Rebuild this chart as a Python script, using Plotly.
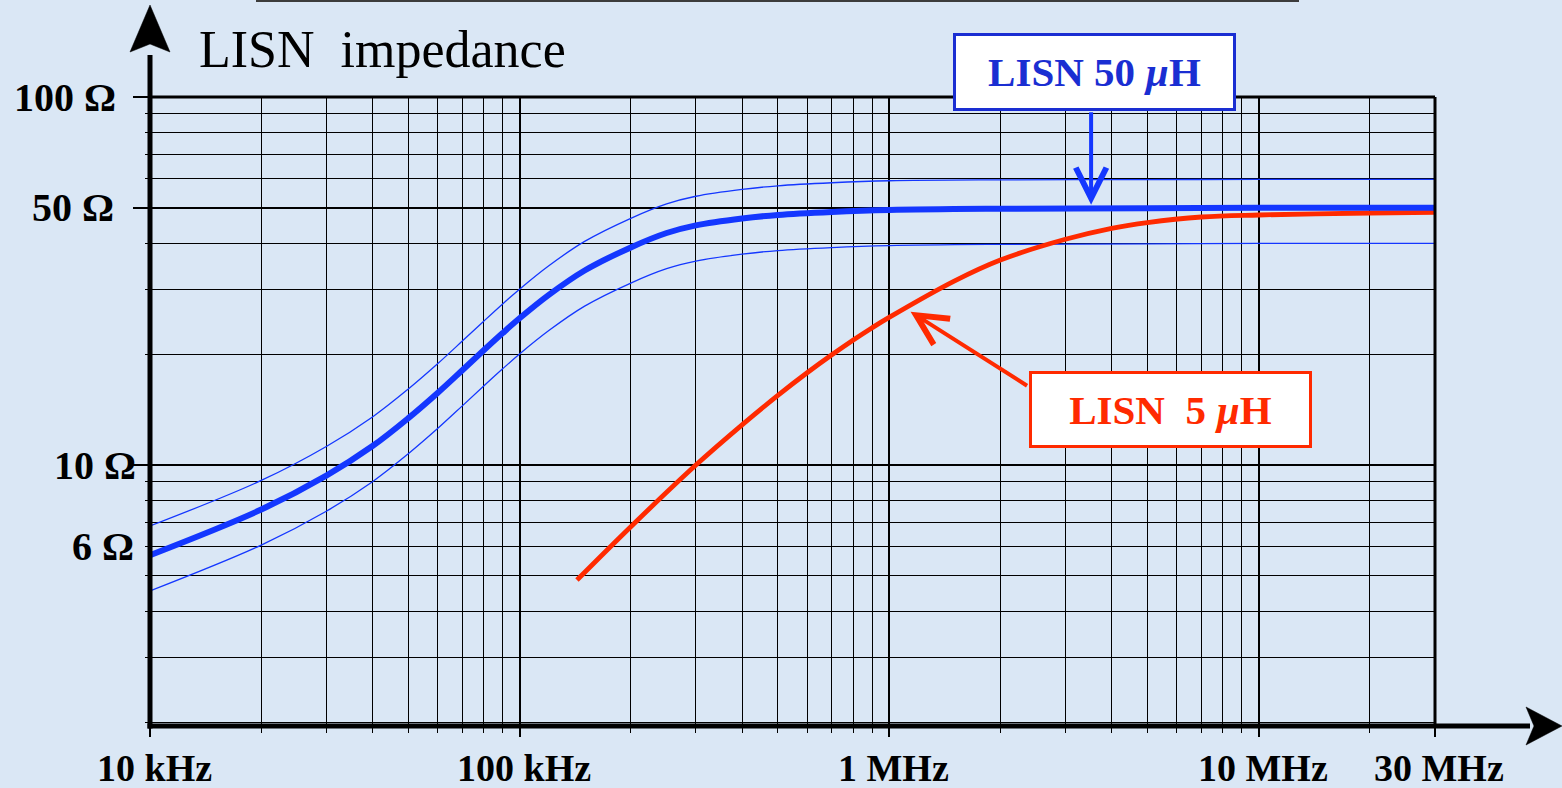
import math
import plotly.graph_objects as go

# ---------------- data ----------------
freq_main = [1e4, 2e4, 3e4, 4e4, 5e4, 6e4, 7e4, 8e4, 9e4, 1e5, 1.2e5, 1.5e5, 2e5,
             2.5e5, 3e5, 4e5, 5e5, 7e5, 1e6, 2e6, 5e6, 1e7, 3e7]
z_main = [5.69, 7.57, 9.36, 11.26, 13.41, 15.70, 18.10, 20.50, 22.83, 25.04, 28.99,
          33.77, 39.02, 42.70, 44.78, 46.75, 47.82, 48.73, 49.34, 49.71, 49.86, 50.0, 50.0]

freq_band = freq_main
z_upper = [6.83, 9.08, 11.23, 13.51, 16.09, 18.84, 21.72, 24.60, 27.40, 30.05, 34.79,
           40.52, 46.82, 51.24, 53.74, 56.10, 57.38, 58.48, 59.21, 59.55, 59.65, 59.7, 59.7]
z_lower = [4.55, 6.06, 7.49, 9.01, 10.73, 12.56, 14.48, 16.40, 18.26, 20.03, 23.19,
           27.02, 31.22, 34.16, 35.82, 37.40, 38.26, 38.98, 39.47, 39.77, 39.89, 40.0, 40.0]

freq_red = [1.43e5, 2e5, 3e5, 4e5, 5e5, 6e5, 7e5, 8e5, 9e5, 1e6, 1.5e6, 2e6, 3e6,
            4e6, 5e6, 7e6, 1e7, 2e7, 3e7]
z_red = [4.87, 6.80, 10.0, 12.86, 15.46, 17.81, 19.93, 21.86, 23.61, 25.18, 31.6,
         36.06, 41.05, 43.97, 45.6, 47.2, 47.8, 48.4, 48.6]

x_tick_vals = [1e4, 1e5, 1e6, 1e7, 3e7]
x_tick_text = ["10 kHz", "100 kHz", "1 MHz", "10 MHz", "30 MHz"]
x_minor_vals = [m * 10 ** e for e in (4, 5, 6) for m in range(2, 10)] + [2e7]

y_major_vals = [10, 50, 100]
y_minor_vals = [2, 3, 4, 5, 6, 7, 8, 9, 20, 30, 40, 60, 70, 80, 90]
y_label_vals = [100, 50, 10, 6]
y_label_text = ["100 Ω", "50 Ω", "10 Ω", "6 Ω"]
y_label_shift = [-32, -34, -12, -14]

title_text = "LISN\u00a0\u00a0impedance"
label_50uH = "LISN 50 <i>µ</i>H"
label_5uH = "LISN\u00a0\u00a05 <i>µ</i>H"
arrow50_tip = (3.52e6, 50.0)
arrow5_tip = (1.143e6, 26.1)

# ---------------- layout geometry ----------------
W, H = 1562, 788
L, R, T, B = 150, 127, 97, 62
PW, PH = W - L - R, H - T - B
XR = [4, math.log10(3e7)]
YR = [math.log10(1.954), 2]

BG = "#dae7f5"
BLUE = "#1437ff"
BLUE_TXT = "#1a2ed2"
RED = "#ff2a00"
FONT = "Liberation Serif, Times New Roman, serif"


def px(xpix):
    return (xpix - L) / PW


def py(ypix):
    return (H - B - ypix) / PH


fig = go.Figure()
for zb in (z_upper, z_lower):
    fig.add_trace(go.Scatter(x=freq_band, y=zb, mode="lines",
                             line=dict(color=BLUE, width=1.3, shape="spline", smoothing=1.0),
                             hoverinfo="skip", showlegend=False))
fig.add_trace(go.Scatter(x=freq_red, y=z_red, mode="lines",
                         line=dict(color=RED, width=4.8, shape="spline", smoothing=1.0),
                         showlegend=False))
fig.add_trace(go.Scatter(x=freq_main, y=z_main, mode="lines",
                         line=dict(color=BLUE, width=6, shape="spline", smoothing=1.0),
                         showlegend=False))

shapes = []
# axis lines
shapes.append(dict(type="line", xref="paper", yref="paper", x0=0, x1=0,
                   y0=py(H - B + 2.5), y1=py(55), line=dict(color="black", width=5)))
shapes.append(dict(type="line", xref="paper", yref="paper", x0=px(L - 2.5), x1=px(1530),
                   y0=0, y1=0, line=dict(color="black", width=5)))
# right and top borders
shapes.append(dict(type="line", xref="paper", yref="paper", x0=1, x1=1, y0=0, y1=1,
                   line=dict(color="black", width=3)))
shapes.append(dict(type="line", xref="paper", yref="paper", x0=0, x1=1, y0=1, y1=1,
                   line=dict(color="black", width=3)))


def arrow_path(pts):
    return "M " + " L ".join(f"{px(a):.5f},{py(b):.5f}" for a, b in pts) + " Z"


# y axis arrowhead
shapes.append(dict(type="path", xref="paper", yref="paper",
                   path=arrow_path([(L, 5), (L + 20, 52), (L, 44), (L - 20, 52)]),
                   fillcolor="black", line=dict(color="black", width=0.5)))
# x axis arrowhead
shapes.append(dict(type="path", xref="paper", yref="paper",
                   path=arrow_path([(1562, H - B), (1526, H - B - 19), (1534, H - B),
                                    (1526, H - B + 19)]),
                   fillcolor="black", line=dict(color="black", width=0.5)))
# thin line at the very top of the slide
shapes.append(dict(type="line", xref="paper", yref="paper", x0=px(256), x1=px(1299),
                   y0=py(1), y1=py(1), line=dict(color="#3c3c3c", width=2)))

ann = []
for v, t in zip(x_tick_vals, x_tick_text):
    ann.append(dict(x=math.log10(v), y=0, xref="x", yref="paper", text=f"<b>{t}</b>",
                    showarrow=False, xanchor="center", yanchor="middle", xshift=4,
                    yshift=-42, font=dict(family=FONT, size=38, color="black")))
for v, t, s in zip(y_label_vals, y_label_text, y_label_shift):
    ann.append(dict(x=0, y=math.log10(v), xref="paper", yref="y", text=f"<b>{t}</b>",
                    showarrow=False, xanchor="right", yanchor="middle", xshift=s,
                    yshift=0, font=dict(family=FONT, size=40, color="black")))
ann.append(dict(x=px(197), y=py(50), xref="paper", yref="paper", text=title_text,
                showarrow=False, xanchor="left", yanchor="middle",
                font=dict(family=FONT, size=52, color="black")))
# label boxes
ann.append(dict(x=px(1094.5), y=py(72), xref="paper", yref="paper",
                text=f"<b>{label_50uH}</b>", showarrow=False, xanchor="center",
                yanchor="middle", width=277, height=72, bgcolor="white",
                bordercolor=BLUE_TXT, borderwidth=3, borderpad=0,
                font=dict(family=FONT, size=41, color=BLUE_TXT)))
ann.append(dict(x=px(1170.5), y=py(409.5), xref="paper", yref="paper",
                text=f"<b>{label_5uH}</b>", showarrow=False, xanchor="center",
                yanchor="middle", width=277, height=71, bgcolor="white",
                bordercolor=RED, borderwidth=3, borderpad=0,
                font=dict(family=FONT, size=41, color=RED)))
# arrows
ann.append(dict(x=math.log10(arrow50_tip[0]), y=math.log10(arrow50_tip[1]), xref="x",
                yref="y", text="", showarrow=True, ax=0, ay=-97, arrowhead=5,
                arrowsize=1.5, arrowwidth=4, arrowcolor=BLUE, standoff=3))
ann.append(dict(x=math.log10(arrow5_tip[0]), y=math.log10(arrow5_tip[1]), xref="x",
                yref="y", text="", showarrow=True, ax=118, ay=75, arrowhead=5,
                arrowsize=1.5, arrowwidth=4, arrowcolor=RED, standoff=0))

fig.update_layout(
    width=W, height=H,
    margin=dict(l=L, r=R, t=T, b=B, pad=0),
    paper_bgcolor=BG, plot_bgcolor=BG,
    showlegend=False,
    shapes=shapes, annotations=ann,
    xaxis=dict(type="log", range=XR, tickvals=x_tick_vals, showticklabels=False,
               showgrid=True, gridcolor="black", gridwidth=2.3, zeroline=False,
               showline=False, ticks="outside", ticklen=10, tickwidth=2,
               tickcolor="black",
               minor=dict(tickvals=x_minor_vals, showgrid=True, gridcolor="black",
                          gridwidth=1.2, ticks="outside", ticklen=6, tickwidth=1.2,
                          tickcolor="black")),
    yaxis=dict(type="log", range=YR, tickvals=y_major_vals, showticklabels=False,
               showgrid=True, gridcolor="black", gridwidth=2.3, zeroline=False,
               showline=False, ticks="outside", ticklen=16, tickwidth=2,
               tickcolor="black",
               minor=dict(tickvals=y_minor_vals, showgrid=True, gridcolor="black",
                          gridwidth=1.2, ticks="outside", ticklen=4, tickwidth=1.2,
                          tickcolor="black")),
)

fig.write_html("out.html",
               config={"displayModeBar": False},
               post_script="document.body.style.margin='0px';"
                           "document.body.style.overflow='hidden';")
